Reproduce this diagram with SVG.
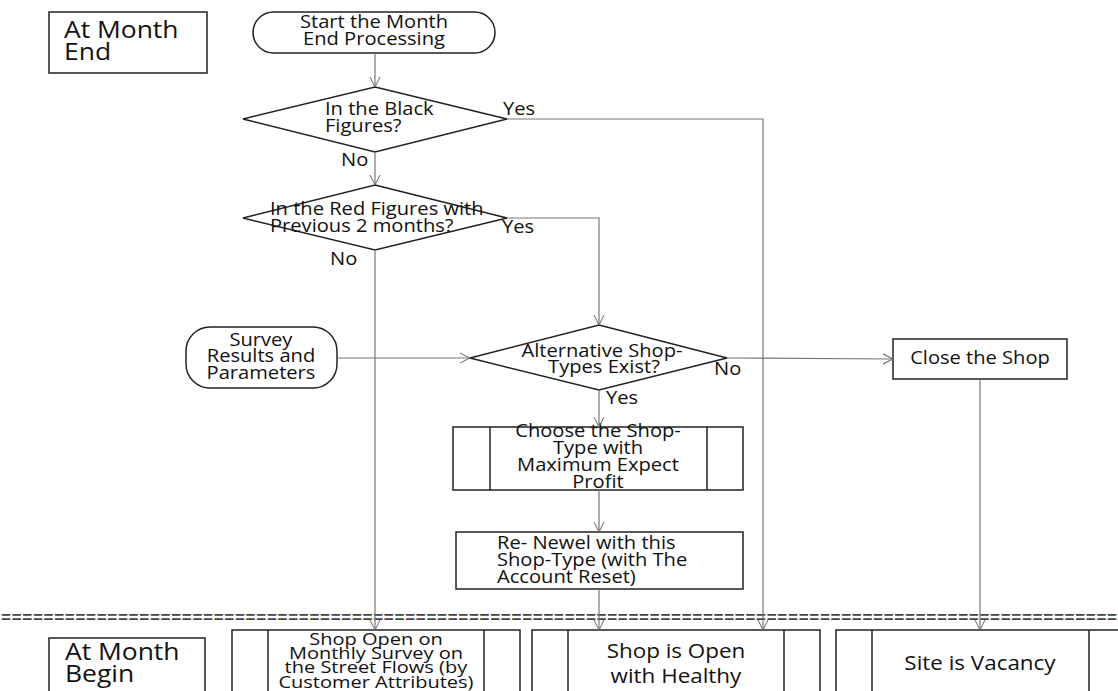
<svg xmlns="http://www.w3.org/2000/svg" width="1118" height="691" viewBox="0 0 1118 691">
<defs>
<marker id="arr" markerUnits="userSpaceOnUse" markerWidth="12" markerHeight="12" refX="10" refY="5" orient="auto" overflow="visible">
<path d="M0,0 L10,5 L0,10" fill="none" stroke="#666" stroke-width="1"/>
</marker>
<style>
.s{fill:#fff;stroke:#222;stroke-width:1.5}
.cn{fill:none;stroke:#777;stroke-width:1.2;marker-end:url(#arr)}
.t{font-family:"Open Sans","Noto Sans",sans-serif;font-size:17.5px;fill:#111;transform-box:fill-box;transform:scaleX(1.15)}
.c{text-anchor:middle;transform-origin:center}
.l{transform-origin:left}
.big{font-size:23px}
.mid{font-size:19.5px}
.sm{font-size:16px;transform:scaleX(1.25)}
.sep{font-family:"Liberation Sans",sans-serif;font-size:17px;font-weight:bold;fill:#444}
</style>
</defs>
<rect width="1118" height="691" fill="#fff"/>

<g id="month-end">
<rect class="s" x="49" y="12" width="158" height="61"/>
<text class="t l big" x="64" y="38">At Month</text>
<text class="t l big" x="64" y="60">End</text>
</g>

<g id="start">
<rect class="s" x="253" y="12" width="242" height="41" rx="20.5"/>
<text class="t c" x="374" y="28">Start the Month</text>
<text class="t c" x="374" y="45">End Processing</text>
</g>

<g id="black">
<polygon class="s" points="375,87 507,119 375,152 243,119"/>
<text class="t l" x="325" y="115">In the Black</text>
<text class="t l" x="325" y="132">Figures?</text>
</g>

<g id="red">
<polygon class="s" points="375,185 507,218 375,250 243,218"/>
<text class="t l" x="270" y="215">In the Red Figures with</text>
<text class="t l" x="270" y="232">Previous 2 months?</text>
</g>

<g id="survey">
<rect class="s" x="186" y="327" width="151" height="61" rx="24"/>
<text class="t c" x="261" y="346">Survey</text>
<text class="t c" x="261" y="362">Results and</text>
<text class="t c" x="261" y="379">Parameters</text>
</g>

<g id="alt">
<polygon class="s" points="599,325 727,358 599,390 470,358"/>
<text class="t c" x="602" y="357">Alternative Shop-</text>
<text class="t c" x="604" y="373">Types Exist?</text>
</g>

<g id="close">
<rect class="s" x="893" y="339" width="174" height="40"/>
<text class="t c" x="980" y="364">Close the Shop</text>
</g>

<g id="choose">
<rect class="s" x="453" y="427" width="290" height="63"/>
<line class="s" x1="490" y1="427" x2="490" y2="490"/>
<line class="s" x1="707" y1="427" x2="707" y2="490"/>
<text class="t c" x="598" y="437">Choose the Shop-</text>
<text class="t c" x="598" y="454">Type with</text>
<text class="t c" x="598" y="471">Maximum Expect</text>
<text class="t c" x="598" y="488">Profit</text>
</g>

<g id="renew">
<rect class="s" x="456" y="532" width="287" height="57"/>
<text class="t l" x="497" y="549">Re- Newel with this</text>
<text class="t l" x="497" y="566">Shop-Type (with The</text>
<text class="t l" x="497" y="583">Account Reset)</text>
</g>

<g id="separator">
<text class="sep" x="1" y="623" textLength="1116" lengthAdjust="spacing">=========================================================================================================</text>
</g>

<g id="month-begin">
<rect class="s" x="49" y="638" width="156" height="70"/>
<text class="t l big" x="65" y="660">At Month</text>
<text class="t l big" x="65" y="682">Begin</text>
</g>

<g id="survey-open">
<rect class="s" x="232" y="630" width="288" height="80"/>
<line class="s" x1="268" y1="630" x2="268" y2="710"/>
<line class="s" x1="484" y1="630" x2="484" y2="710"/>
<text class="t c sm" x="376" y="645">Shop Open on</text>
<text class="t c sm" x="376" y="659">Monthly Survey on</text>
<text class="t c sm" x="376" y="673">the Street Flows (by</text>
<text class="t c sm" x="376" y="688">Customer Attributes)</text>
</g>

<g id="healthy">
<rect class="s" x="532" y="630" width="288" height="80"/>
<line class="s" x1="568" y1="630" x2="568" y2="710"/>
<line class="s" x1="784" y1="630" x2="784" y2="710"/>
<text class="t c mid" x="676" y="658">Shop is Open</text>
<text class="t c mid" x="676" y="683">with Healthy</text>
</g>

<g id="vacancy">
<rect class="s" x="836" y="630" width="300" height="80"/>
<line class="s" x1="872" y1="630" x2="872" y2="710"/>
<line class="s" x1="1089" y1="630" x2="1089" y2="710"/>
<text class="t c mid" x="980" y="670">Site is Vacancy</text>
</g>

<g id="connectors">
<path class="cn" d="M375,53 L375,87"/>
<path class="cn" d="M507,119 L763,119 L763,630"/>
<path class="cn" d="M375,152 L375,185"/>
<path class="cn" d="M507,218 L599,218 L599,325"/>
<path class="cn" d="M375,250 L375,630"/>
<path class="cn" d="M337,358 L470,358"/>
<path class="cn" d="M727,358 L893,359"/>
<path class="cn" d="M599,390 L599,427"/>
<path class="cn" d="M599,490 L599,532"/>
<path class="cn" d="M599,589 L599,630"/>
<path class="cn" d="M980,379 L980,630"/>
<text class="t l" x="503" y="115">Yes</text>
<text class="t l" x="341" y="166">No</text>
<text class="t l" x="502" y="233">Yes</text>
<text class="t l" x="330" y="265">No</text>
<text class="t l" x="714" y="375">No</text>
<text class="t l" x="606" y="404">Yes</text>
</g>
</svg>
